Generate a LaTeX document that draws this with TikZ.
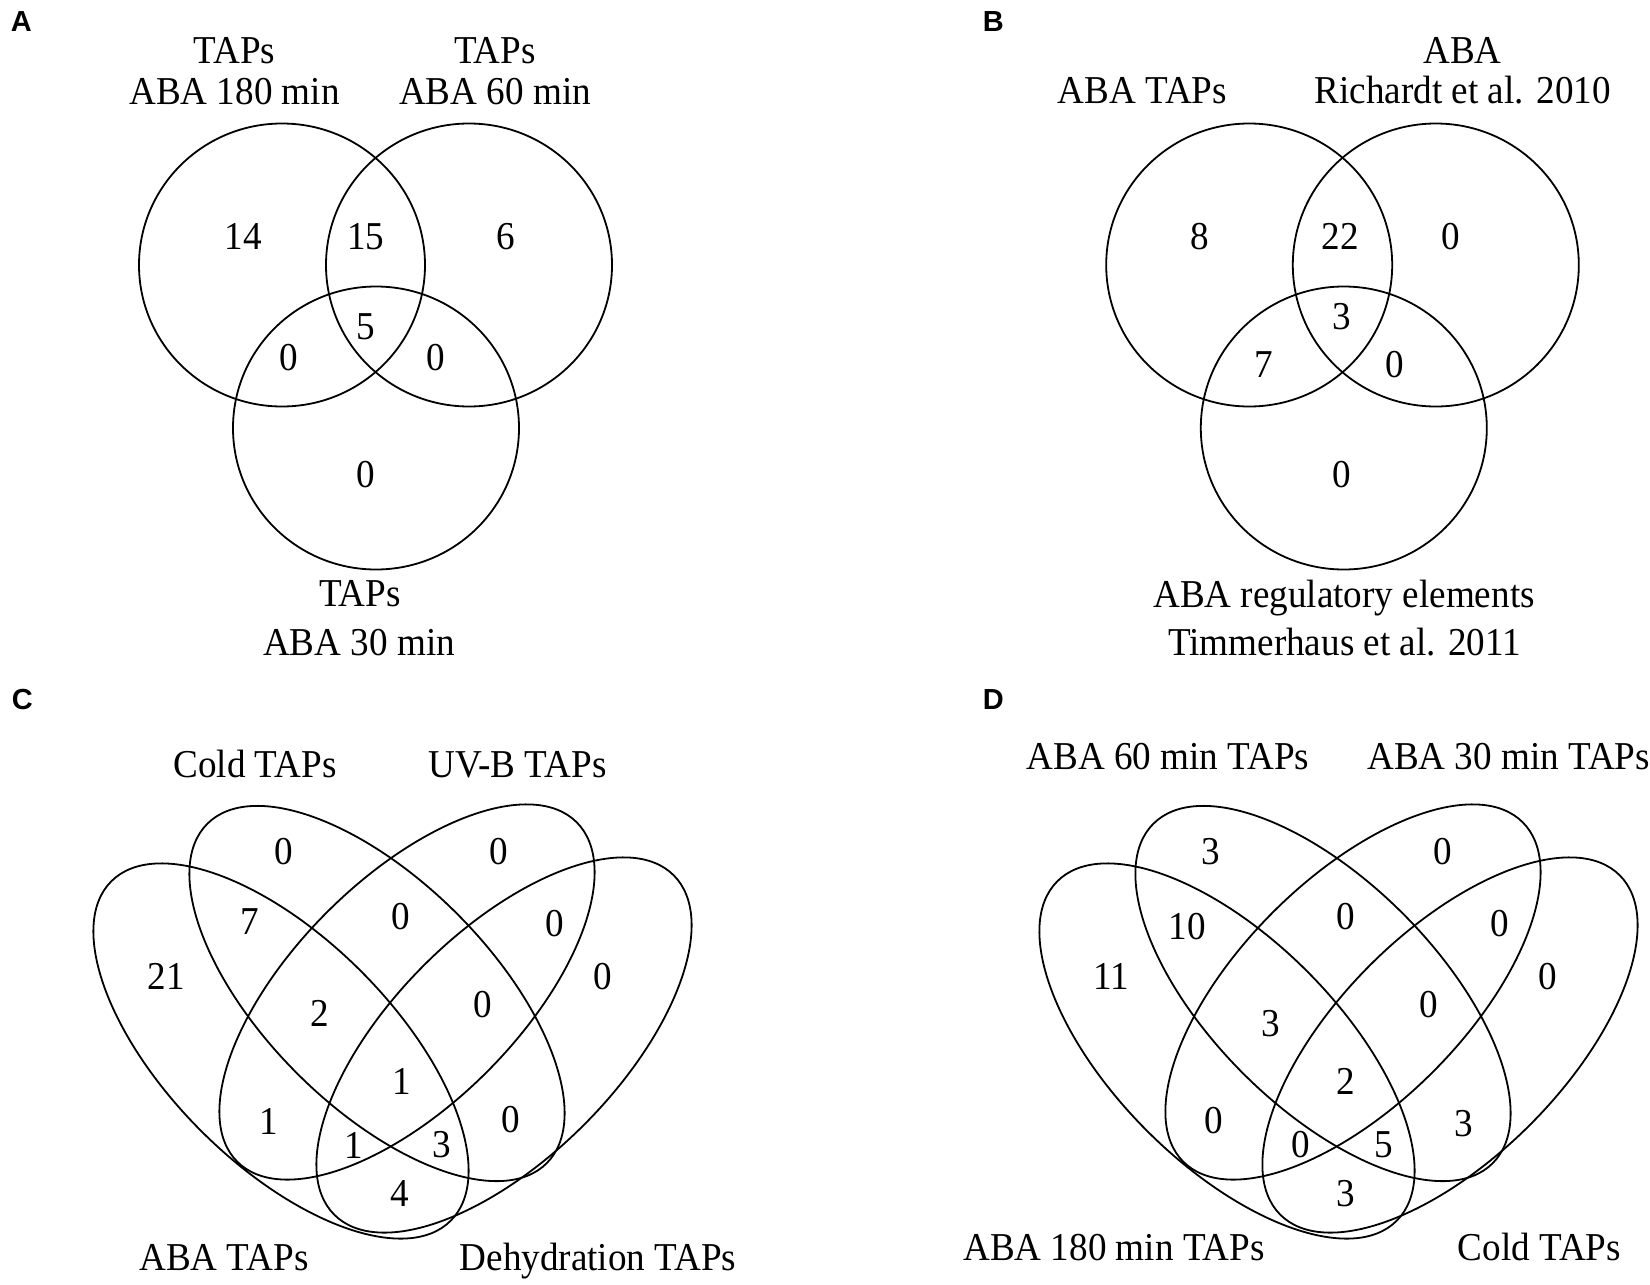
\documentclass[tikz,border=0pt]{standalone}
\usepackage{fontspec}
\setmainfont{Liberation Serif}[FakeStretch=0.94]
\setsansfont{Liberation Sans}
\begin{document}
\begin{tikzpicture}[x=1pt,y=-1pt,line width=1.8pt,
  lbl/.style={anchor=base,inner sep=0pt,font=\fontsize{39.5}{45}\selectfont},
  num/.style={inner sep=0pt,font=\fontsize{39.5}{45}\selectfont},
  panel/.style={anchor=base west,inner sep=0pt,font=\fontsize{29}{32}\selectfont\sffamily\bfseries},
  vcirc/.style={x radius=143,y radius=141.5},
  vell/.style={x radius=240,y radius=113}]
\useasboundingbox[fill=white] (0,0) rectangle (1650,1285);

% panel letters
\node[panel] (pA) at (10,31.5) {A};
\node[panel] (pB) at (982,31.5) {B};
\node[panel] (pC) at (11,709) {C};
\node[panel] (pD) at (982,709) {D};

% ---------- Panel A ----------
\draw (282,265) ellipse [vcirc];
\draw (469,265) ellipse [vcirc];
\draw (376,428) ellipse [vcirc];
\node[lbl] (a1) at (234.5,63.5) {TAPs};
\node[lbl] (a2) at (234.5,104.5) {ABA 180 min};
\node[lbl] (a3) at (495,63.5) {TAPs};
\node[lbl] (a4) at (495,104.5) {ABA 60 min};
\node[lbl] (a5) at (360,606) {TAPs};
\node[lbl] (a6) at (359,655) {ABA 30 min};
\node[num] (an1) at (243.3,236.7) {14};
\node[num] (an2) at (365.7,236.7) {15};
\node[num] (an3) at (506,236.7) {6};
\node[num] (an4) at (365.7,326.7) {5};
\node[num] (an5) at (289,357.3) {0};
\node[num] (an6) at (435.7,357.3) {0};
\node[num] (an7) at (365.7,475) {0};

% ---------- Panel B ----------
\draw (1249.2,265) ellipse [vcirc];
\draw (1435.8,265) ellipse [vcirc];
\draw (1343.8,428) ellipse [vcirc];
\node[lbl] (b1) at (1142.4,103.7) {ABA TAPs};
\node[lbl] (b2) at (1462.4,63.5) {ABA};
\node[lbl] (b3) at (1462.7,103.7) {Richardt et al. 2010};
\node[lbl] (b4) at (1344,607) {ABA regulatory elements};
\node[lbl] (b5) at (1344.6,655) {Timmerhaus et al. 2011};
\node[num] (bn1) at (1200,236.7) {8};
\node[num] (bn2) at (1340,236.7) {22};
\node[num] (bn3) at (1450.7,236.7) {0};
\node[num] (bn4) at (1341.7,316.7) {3};
\node[num] (bn5) at (1264,365) {7};
\node[num] (bn6) at (1395,365) {0};
\node[num] (bn7) at (1341.7,475) {0};

% ---------- Panel C ----------
\draw[rotate around={-45:(281,1051)}] (281,1051) ellipse [vell];
\draw[rotate around={-45:(377,993.5)}] (377,993.5) ellipse [vell];
\draw[rotate around={45:(407,992)}] (407,992) ellipse [vell];
\draw[rotate around={45:(504,1045)}] (504,1045) ellipse [vell];
\node[lbl] (c1) at (255,777) {Cold TAPs};
\node[lbl] (c2) at (517.5,777) {UV-B TAPs};
\node[lbl] (c3) at (224,1270) {ABA TAPs};
\node[lbl] (c4) at (598,1270) {Dehydration TAPs};
\node[num] (cn1) at (283.3,851.7) {0};
\node[num] (cn2) at (498.3,851.7) {0};
\node[num] (cn3) at (250,921.7) {7};
\node[num] (cn4) at (401,916.7) {0};
\node[num] (cn5) at (555,923.3) {0};
\node[num] (cn6) at (166,976.7) {21};
\node[num] (cn7) at (602.7,976.7) {0};
\node[num] (cn8) at (319.3,1013.3) {2};
\node[num] (cn9) at (482.7,1005) {0};
\node[num] (cn10) at (401.7,1081.7) {1};
\node[num] (cn11) at (268.3,1121.7) {1};
\node[num] (cn12) at (510.7,1120) {0};
\node[num] (cn13) at (354,1145) {1};
\node[num] (cn14) at (441.7,1145) {3};
\node[num] (cn15) at (399.3,1193.3) {4};

% ---------- Panel D ----------
\draw[rotate around={-45:(1227,1051)}] (1227,1051) ellipse [vell];
\draw[rotate around={-45:(1323,993.5)}] (1323,993.5) ellipse [vell];
\draw[rotate around={45:(1353,992)}] (1353,992) ellipse [vell];
\draw[rotate around={45:(1450,1045)}] (1450,1045) ellipse [vell];
\node[lbl] (d1) at (1167.8,769) {ABA 60 min TAPs};
\node[lbl] (d2) at (1508.7,769) {ABA 30 min TAPs};
\node[lbl] (d3) at (1114,1260) {ABA 180 min TAPs};
\node[lbl] (d4) at (1539.5,1260) {Cold TAPs};
\node[num] (dn1) at (1210.3,851.7) {3};
\node[num] (dn2) at (1442.7,851.7) {0};
\node[num] (dn3) at (1187,926.7) {10};
\node[num] (dn4) at (1346,916.7) {0};
\node[num] (dn5) at (1500,923.3) {0};
\node[num] (dn6) at (1111,976.7) {11};
\node[num] (dn7) at (1547.7,976.7) {0};
\node[num] (dn8) at (1271,1023.3) {3};
\node[num] (dn9) at (1428.3,1005) {0};
\node[num] (dn10) at (1346,1081.7) {2};
\node[num] (dn11) at (1213.3,1120.7) {0};
\node[num] (dn12) at (1463.3,1123.3) {3};
\node[num] (dn13) at (1301,1145) {0};
\node[num] (dn14) at (1383.3,1145) {5};
\node[num] (dn15) at (1346,1193.3) {3};
\end{tikzpicture}
\end{document}
